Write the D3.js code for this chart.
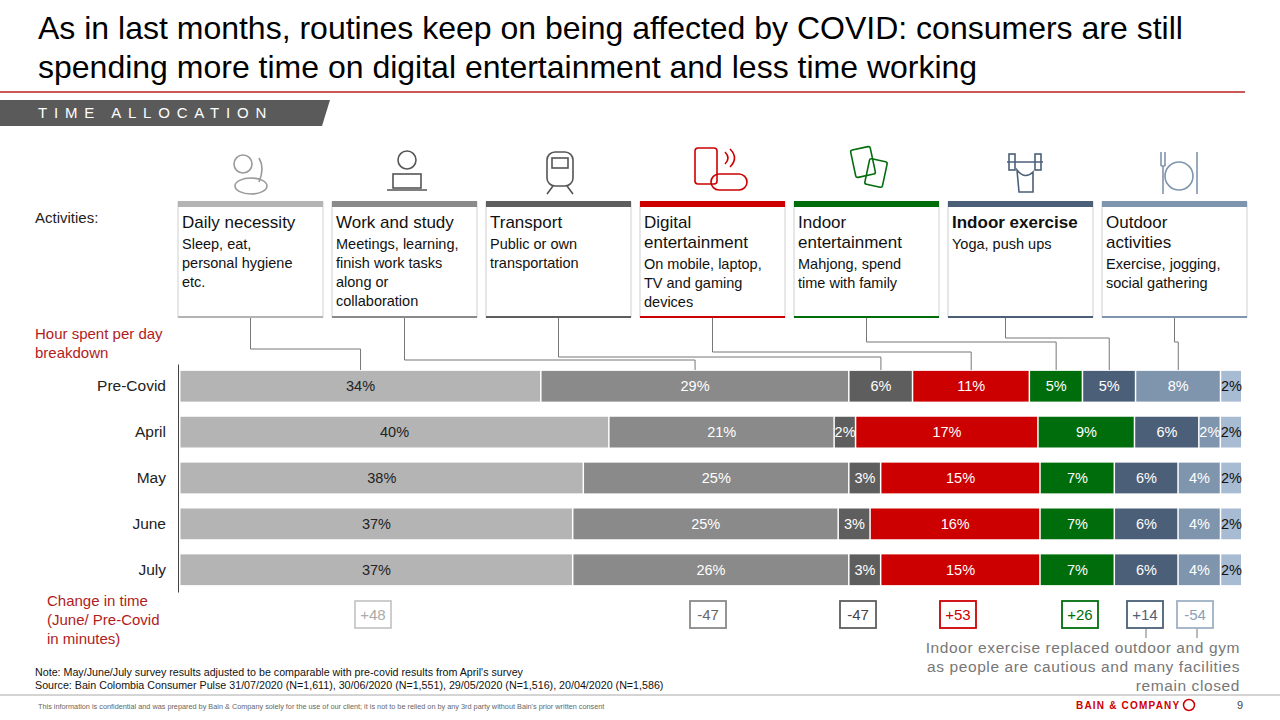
<!DOCTYPE html>
<html><head><meta charset="utf-8">
<script src="https://d3js.org/d3.v7.min.js"></script>
<style>body{margin:0;background:#fff;font-family:Arial,"Liberation Sans",sans-serif}</style>
</head><body><div id="vis"></div>
<script>
// datos
const periods = ["Pre-Covid", "April", "May", "June", "July"];
const activities = ["Daily necessity", "Work and study", "Transport", "Digital entertainment", "Indoor entertainment", "Indoor exercise", "Outdoor activities", "Other"];
const preCovid = [34, 29, 6, 11, 5, 5, 8, 2];
const april = [40, 21, 2, 17, 9, 6, 2, 2];
const may = [38, 25, 3, 15, 7, 6, 4, 2];
const june = [37, 25, 3, 16, 7, 6, 4, 2];
const july = [37, 26, 3, 15, 7, 6, 4, 2];
const changeLabels = ["+48", "-47", "-47", "+53", "+26", "+14", "-54"];
const colors = ["#b4b4b4", "#8a8a8a", "#5e5e5e", "#cc0000", "#006d0c", "#4b6078", "#7f95ad", "#a7bbd3"];

const rows = [preCovid, april, may, june, july];
const W = 1280, H = 720;
const svg = d3.select("#vis").append("svg").attr("width", W).attr("height", H);

// titulo
svg.append("text").attr("x", 38).attr("y", 39).attr("font-size", 32).attr("fill", "#000")
  .text("As in last months, routines keep on being affected by COVID: consumers are still");
svg.append("text").attr("x", 38).attr("y", 78).attr("font-size", 32).attr("fill", "#000")
  .text("spending more time on digital entertainment and less time working");
svg.append("line").attr("x1", 0).attr("x2", 1245).attr("y1", 92).attr("y2", 92).attr("stroke", "#b22").attr("stroke-width", 1.5);
svg.append("path").attr("d", "M0,100 L330,100 L322,126 L0,126 Z").attr("fill", "#5a5a5a");
svg.append("text").attr("x", 38).attr("y", 118).attr("font-size", 15).attr("fill", "#fff")
  .attr("letter-spacing", 6.8).text("TIME ALLOCATION");

// escalas
const x = d3.scaleLinear().domain([0, 100]).range([180, 1242]);
const y = d3.scaleBand().domain(periods).range([364, 592]).paddingInner(0.33).paddingOuter(0.15);

const stacked = rows.map((r, i) => {
  const tot = d3.sum(r); let acc = 0;
  return r.map((v, j) => { const s = acc; acc += v * 100 / tot; return {period: periods[i], j, v, x0: s, x1: acc}; });
});

svg.append("text").attr("x", 35).attr("y", 223).attr("font-size", 15).attr("fill", "#222").text("Activities:");
svg.append("text").attr("x", 35).attr("y", 339).attr("font-size", 15).attr("fill", "#b01c1c").text("Hour spent per day");
svg.append("text").attr("x", 35).attr("y", 358).attr("font-size", 15).attr("fill", "#b01c1c").text("breakdown");

const bars = svg.append("g");
stacked.forEach(row => {
  const g = bars.append("g");
  g.selectAll("rect").data(row).join("rect")
    .attr("x", d => x(d.x0) + 0.5).attr("y", d => y(d.period))
    .attr("width", d => x(d.x1) - x(d.x0) - 1.5).attr("height", y.bandwidth())
    .attr("fill", d => colors[d.j]);
  g.selectAll("text").data(row).join("text")
    .attr("x", d => (x(d.x0) + x(d.x1)) / 2).attr("y", d => y(d.period) + y.bandwidth() / 2 + 5)
    .attr("text-anchor", "middle").attr("font-size", 14.5)
    .attr("fill", d => d.j === 7 ? "#111" : d.j === 0 ? "#222" : "#fff")
    .text(d => d.v + "%");
});
svg.append("g").attr("transform", "translate(178,0)")
  .call(d3.axisLeft(y).tickSize(0).tickPadding(12))
  .call(g => g.select(".domain").attr("stroke", "#444"))
  .call(g => g.selectAll("text").attr("font-size", 15.5).attr("fill", "#222").attr("font-family", "Arial,Liberation Sans"));

// cajas de actividades
const boxes = [
  {t: "Daily necessity", s: ["Sleep, eat,", "personal hygiene", "etc."]},
  {t: "Work and study", s: ["Meetings, learning,", "finish work tasks", "along or", "collaboration"]},
  {t: "Transport", s: ["Public or own", "transportation"]},
  {t: "Digital\nentertainment", s: ["On mobile, laptop,", "TV and gaming", "devices"]},
  {t: "Indoor\nentertainment", s: ["Mahjong, spend", "time with family"]},
  {t: "Indoor exercise", s: ["Yoga, push ups"], bold: true},
  {t: "Outdoor\nactivities", s: ["Exercise, jogging,", "social gathering"]}
];
const boxTop = ["#b4b4b4", "#8a8a8a", "#5e5e5e", "#cc0000", "#006d0c", "#4b6078", "#7f95ad"];
const elbowY = [349, 360, 357, 352, 342, 338, 342];
boxes.forEach((b, i) => {
  const bx = 178 + i * 154, bw = 145;
  const g = svg.append("g");
  g.append("rect").attr("x", bx).attr("y", 202).attr("width", bw).attr("height", 115)
    .attr("fill", "#fff").attr("stroke", "#d0d0d0");
  g.append("rect").attr("x", bx).attr("y", 201).attr("width", bw).attr("height", 6).attr("fill", boxTop[i]);
  g.append("line").attr("x1", bx).attr("x2", bx + bw).attr("y1", 317).attr("y2", 317).attr("stroke", boxTop[i]).attr("stroke-width", 2);
  const tl = b.t.split("\n");
  tl.forEach((t, k) => g.append("text").attr("x", bx + 4).attr("y", 228 + k * 20).attr("font-size", 17)
    .attr("font-weight", b.bold ? "bold" : null).attr("fill", "#111").text(t));
  const sy = 228 + tl.length * 20 + 1;
  b.s.forEach((t, k) => g.append("text").attr("x", bx + 4).attr("y", sy + k * 19).attr("font-size", 14.5).attr("fill", "#111").text(t));
  // conector
  const seg = stacked[0][i];
  const cx = bx + bw / 2 - (i === 5 ? 15 : 0), tx = (x(seg.x0) + x(seg.x1)) / 2;
  svg.append("path").attr("d", `M${cx},318 V${elbowY[i]} H${tx} V370`).attr("fill", "none").attr("stroke", "#777");
  // icono sencillo
  const ix = bx + 55, ic = boxTop[i] === "#b4b4b4" ? "#999" : (i < 3 ? "#555" : boxTop[i]);
  const ig = svg.append("g").attr("transform", `translate(${ix},148)`).attr("fill", "none").attr("stroke", ic).attr("stroke-width", 1.6);
  if (i === 0) { ig.append("ellipse").attr("cx", 18).attr("cy", 38).attr("rx", 16).attr("ry", 8); ig.append("circle").attr("cx", 10).attr("cy", 16).attr("r", 9); ig.append("path").attr("d", "M26,10 q6,10 0,24"); }
  else if (i === 1) { ig.append("circle").attr("cx", 20).attr("cy", 12).attr("r", 9); ig.append("rect").attr("x", 6).attr("y", 26).attr("width", 28).attr("height", 14); ig.append("line").attr("x1", 0).attr("x2", 40).attr("y1", 42).attr("y2", 42); }
  else if (i === 2) { ig.append("rect").attr("x", 6).attr("y", 4).attr("width", 26).attr("height", 34).attr("rx", 8); ig.append("rect").attr("x", 11).attr("y", 10).attr("width", 16).attr("height", 10); ig.append("path").attr("d", "M6,46 L12,38 M32,46 L26,38"); }
  else if (i === 3) { ig.append("rect").attr("x", 0).attr("y", 0).attr("width", 22).attr("height", 36).attr("rx", 3); ig.append("path").attr("d", "M24,26 h20 a6,6 0 0 1 0,16 h-20 a6,6 0 0 1 0,-16 z"); ig.append("path").attr("d", "M30,4 q6,6 0,12 M35,1 q9,9 0,18"); }
  else if (i === 4) { ig.append("rect").attr("x", 4).attr("y", 0).attr("width", 20).attr("height", 28).attr("rx", 2).attr("transform", "rotate(-12 14 14)"); ig.append("rect").attr("x", 18).attr("y", 12).attr("width", 18).attr("height", 26).attr("rx", 2).attr("transform", "rotate(12 27 25)"); }
  else if (i === 5) { ig.append("line").attr("x1", 4).attr("x2", 40).attr("y1", 14).attr("y2", 14); ig.append("rect").attr("x", 6).attr("y", 6).attr("width", 6).attr("height", 16); ig.append("rect").attr("x", 32).attr("y", 6).attr("width", 6).attr("height", 16); ig.append("path").attr("d", "M14,22 q8,10 16,2 v20 h-14 z"); }
  else { ig.append("circle").attr("cx", 22).attr("cy", 28).attr("r", 14); ig.append("path").attr("d", "M4,4 v14 M8,4 v14 M4,18 h4 M6,18 v28 M40,4 v42"); }
});

// cambio en tiempo
svg.append("text").attr("x", 47).attr("y", 606).attr("font-size", 15).attr("fill", "#b01c1c").text("Change in time");
svg.append("text").attr("x", 47).attr("y", 625).attr("font-size", 15).attr("fill", "#b01c1c").text("(June/ Pre-Covid");
svg.append("text").attr("x", 47).attr("y", 644).attr("font-size", 15).attr("fill", "#b01c1c").text("in minutes)");
const chX = [373, 708, 858, 958, 1080, 1145, 1195];
const chColor = ["#c8c8c8", "#8a8a8a", "#5e5e5e", "#cc0000", "#006d0c", "#4b6078", "#9fb1c6"];
const chText = ["#aaa", "#666", "#444", "#cc0000", "#006d0c", "#4b6078", "#8aa0b8"];
changeLabels.forEach((c, i) => {
  svg.append("rect").attr("x", chX[i] - 18).attr("y", 601).attr("width", 36).attr("height", 27)
    .attr("fill", "#fff").attr("stroke", chColor[i]).attr("stroke-width", 1.8);
  svg.append("text").attr("x", chX[i]).attr("y", 620).attr("text-anchor", "middle").attr("font-size", 15).attr("fill", chText[i]).text(c);
});
svg.append("line").attr("x1", 1146).attr("x2", 1146).attr("y1", 629).attr("y2", 638).attr("stroke", "#777");
svg.append("line").attr("x1", 1197).attr("x2", 1197).attr("y1", 629).attr("y2", 638).attr("stroke", "#777");
["Indoor exercise replaced outdoor and gym", "as people are cautious and many facilities", "remain closed"].forEach((t, k) =>
  svg.append("text").attr("x", 1240).attr("y", 653 + k * 19).attr("text-anchor", "end").attr("font-size", 15.5)
    .attr("fill", "#777").attr("letter-spacing", 0.6).text(t));

// pie
svg.append("text").attr("x", 35).attr("y", 676).attr("font-size", 10.7).attr("fill", "#111")
  .text("Note: May/June/July survey results adjusted to be comparable with pre-covid results from April's survey");
svg.append("text").attr("x", 35).attr("y", 689).attr("font-size", 10.7).attr("fill", "#111")
  .text("Source: Bain Colombia Consumer Pulse 31/07/2020 (N=1,611), 30/06/2020 (N=1,551), 29/05/2020 (N=1,516), 20/04/2020 (N=1,586)");
svg.append("line").attr("x1", 0).attr("x2", 1280).attr("y1", 695).attr("y2", 695).attr("stroke", "#aaa");
svg.append("text").attr("x", 38).attr("y", 709).attr("font-size", 7.3).attr("fill", "#666")
  .text("This information is confidential and was prepared by Bain & Company solely for the use of our client; it is not to be relied on by any 3rd party without Bain's prior written consent");
svg.append("text").attr("x", 1076).attr("y", 709).attr("font-size", 10).attr("font-weight", "bold").attr("letter-spacing", 1.2).attr("fill", "#cc0000").text("BAIN & COMPANY");
svg.append("circle").attr("cx", 1189).attr("cy", 705).attr("r", 5.5).attr("fill", "none").attr("stroke", "#cc0000").attr("stroke-width", 1.5);
svg.append("text").attr("x", 1243).attr("y", 709).attr("text-anchor", "end").attr("font-size", 11).attr("fill", "#444").text("9");
</script></body></html>
